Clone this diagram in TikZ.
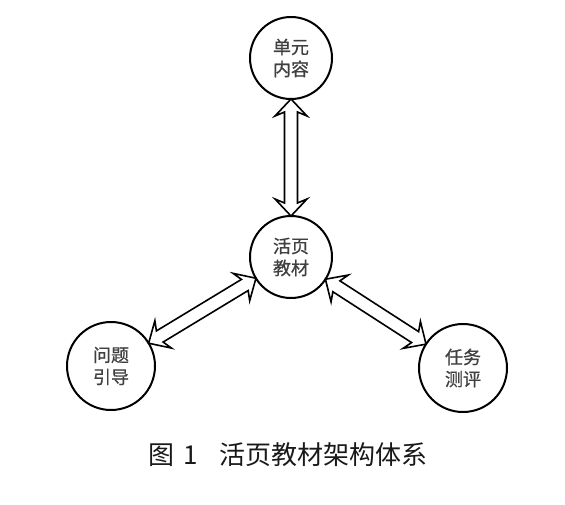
\documentclass[tikz,border=0pt]{standalone}
\usepackage{fontspec}
\newfontfamily\cjk{Noto Sans CJK SC}
\newfontfamily\cjkb[FakeBold=0.8]{Noto Sans CJK SC}
\usetikzlibrary{calc}
\tikzset{
  circnode/.style={circle, draw=black, line width=2pt, minimum size=82pt, inner sep=0pt,
    align=center, text=black!75, font=\cjkb\fontsize{18}{22}\selectfont},
  arrowline/.style={draw=black, line width=1.6pt, fill=white, line join=miter},
}
% double-headed hollow arrow from circle a to circle b
\newcommand{\dblarr}[4]{%
  \coordinate (tA) at ($(#1.center)!#3!(#2.center)$);
  \coordinate (tB) at ($(#2.center)!#4!(#1.center)$);
  \coordinate (hA) at ($(tA)!17pt!(tB)$);
  \coordinate (sA) at ($(tA)!13pt!(tB)$);
  \coordinate (hB) at ($(tB)!17pt!(tA)$);
  \coordinate (sB) at ($(tB)!13pt!(tA)$);
  \path[arrowline] (tA)
    -- ($(hA)!16pt!90:(tB)$) -- ($(sA)!6.5pt!90:(tB)$)
    -- ($(sB)!6.5pt!-90:(tA)$) -- ($(hB)!16pt!-90:(tA)$)
    -- (tB)
    -- ($(hB)!16pt!90:(tA)$) -- ($(sB)!6.5pt!90:(tA)$)
    -- ($(sA)!6.5pt!-90:(tB)$) -- ($(hA)!16pt!-90:(tB)$)
    -- cycle;
}
\begin{document}
\begin{tikzpicture}[x=1pt,y=-1pt]
\useasboundingbox (0,0) rectangle (565,504);
\node[circnode] (top) at (291,58) {单元\\内容};
\node[circnode] (mid) at (291,257) {活页\\教材};
\node[circnode, minimum size=88pt] (left) at (111,366) {问题\\引导};
\node[circnode, minimum size=88pt] (right) at (463,368) {任务\\测评};
\dblarr{mid}{top}{41pt}{41pt}
\dblarr{mid}{left}{41pt}{44pt}
\dblarr{mid}{right}{41pt}{44pt}
\node[anchor=west, inner sep=0pt, text=black!90, font=\cjk\fontsize{26}{30}\selectfont] (cap) at (148,455) {图\hspace{9pt}1\hspace{22pt}活页教材架构体系};
\end{tikzpicture}
\end{document}
